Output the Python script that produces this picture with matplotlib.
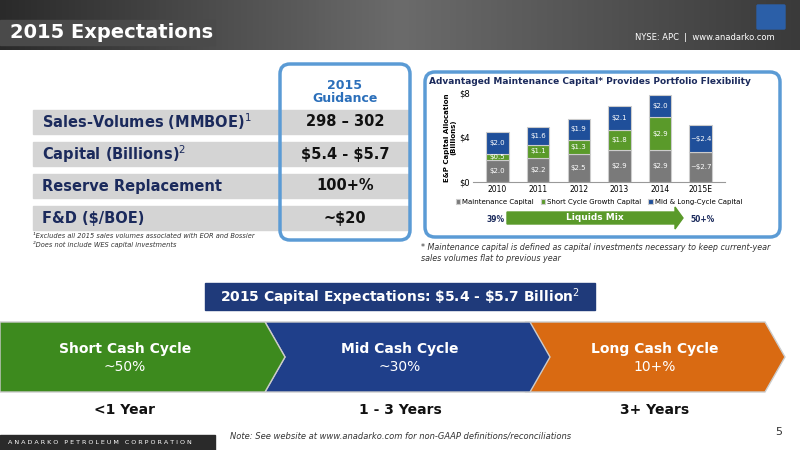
import matplotlib
matplotlib.use('Agg')
import matplotlib.pyplot as plt
from matplotlib.patches import Rectangle, FancyBboxPatch, Polygon
import numpy as np

years = ['2010', '2011', '2012', '2013', '2014', '2015E']
maintenance = [2.0, 2.2, 2.5, 2.9, 2.9, 2.7]
short_cycle = [0.5, 1.1, 1.3, 1.8, 2.9, 0.0]
mid_long = [2.0, 1.6, 1.9, 2.1, 2.0, 2.4]
maint_labels = ['$2.0', '$2.2', '$2.5', '$2.9', '$2.9', '~$2.7']
short_labels = ['$0.5', '$1.1', '$1.3', '$1.8', '$2.9', '']
mid_labels = ['$2.0', '$1.6', '$1.9', '$2.1', '$2.0', '~$2.4']

rows = ['Sales-Volumes (MMBOE)$^1$', 'Capital (Billions)$^2$', 'Reserve Replacement', 'F&D (\\$/BOE)']
guidance = ['298 – 302', '\\$5.4 - \\$5.7', '100+%', '~\\$20']

cycles = ['Short Cash Cycle', 'Mid Cash Cycle', 'Long Cash Cycle']
cycle_pct = ['~50%', '~30%', '10+%']
cycle_years = ['<1 Year', '1 - 3 Years', '3+ Years']

navy = '#1b2a5c'
fig = plt.figure(figsize=(8, 4.5), dpi=100)
bg = fig.add_axes([0, 0, 1, 1])

# header
grad = np.linspace(0, 1, 256).reshape(1, -1)
cmap = matplotlib.colors.LinearSegmentedColormap.from_list('h', ['#2a2a2a', '#6b6b6b', '#3a3a3a'])
bg.imshow(np.vstack([grad] * 2), extent=[0, 800, 50, 0], cmap=cmap, aspect='auto', zorder=0)
bg.add_patch(Rectangle((0, 20), 215, 25, color='#4a4a4a', zorder=1))
bg.text(10, 33, '2015 Expectations', color='white', fontsize=14, fontweight='bold', va='center', zorder=2)
bg.text(705, 37, 'NYSE: APC  |  www.anadarko.com', color='white', fontsize=6, ha='center', va='center')
bg.add_patch(FancyBboxPatch((758, 6), 26, 22, boxstyle='round,pad=1', color='#2b5fa8'))
bg.set_xlim(0, 800)
bg.set_ylim(450, 0)
bg.axis('off')

# footer
bg.add_patch(Rectangle((0, 435), 215, 15, color='#2a2a2a'))
bg.text(8, 442, 'A N A D A R K O   P E T R O L E U M   C O R P O R A T I O N', color='white', fontsize=4.6, va='center')
bg.text(230, 436, 'Note: See website at www.anadarko.com for non-GAAP definitions/reconciliations', fontsize=6, style='italic', color='#333333', va='center')
bg.text(775, 432, '5', fontsize=8, color='#333333', va='center')

# table
bg.text(345, 92, '2015\nGuidance', color='#2b6fba', fontsize=9, fontweight='bold', ha='center', va='center', linespacing=1.0)
for i, (r, g) in enumerate(zip(rows, guidance)):
    y = 122 + i * 32
    bg.add_patch(Rectangle((33, y - 12), 375, 24, color='#d4d4d4', zorder=1))
    bg.text(42, y, r, color=navy, fontsize=10.5, fontweight='bold', va='center', zorder=3)
    bg.text(345, y, g, color='#111111', fontsize=10.5, fontweight='bold', ha='center', va='center', zorder=3)
bg.add_patch(FancyBboxPatch((280, 64), 130, 176, boxstyle='round,pad=0,rounding_size=10', fill=False, ec='#5b9bd5', lw=2.5, zorder=4))
bg.text(33, 236, '¹Excludes all 2015 sales volumes associated with EOR and Bossier', fontsize=4.8, style='italic', color='#333333', va='center')
bg.text(33, 245, '²Does not include WES capital investments', fontsize=4.8, style='italic', color='#333333', va='center')

# chart frame
bg.add_patch(FancyBboxPatch((425, 72), 355, 165, boxstyle='round,pad=0,rounding_size=10', fill=False, ec='#5b9bd5', lw=2.5))
bg.text(590, 82, 'Advantaged Maintenance Capital* Provides Portfolio Flexibility', fontsize=6.5, fontweight='bold', color=navy, ha='center', va='center')
bg.text(421, 253, '* Maintenance capital is defined as capital investments necessary to keep current-year\nsales volumes flat to previous year', fontsize=5.8, style='italic', color='#333333', va='center', linespacing=1.4)
bg.add_patch(Polygon([[507, 212], [675, 212], [675, 207], [683, 218], [675, 229], [675, 224], [507, 224]], color='#5a9a2a'))
bg.text(595, 218, 'Liquids Mix', color='white', fontsize=6.5, fontweight='bold', ha='center', va='center')
bg.text(487, 220, '39%', fontsize=5.5, fontweight='bold', color=navy, va='center')
bg.text(690, 220, '50+%', fontsize=5.5, fontweight='bold', color=navy, va='center')

# capital banner
bg.add_patch(Rectangle((205, 283), 390, 27, color='#1f3a7a'))
bg.text(400, 297, '2015 Capital Expectations: \\$5.4 - \\$5.7 Billion$^2$', color='white', fontsize=10, fontweight='bold', ha='center', va='center')

# chevrons
cols = ['#3d8a1e', '#1f3f8a', '#d96a12']
xs = [0, 265, 525]
for i in range(3):
    x0 = xs[i]
    w = 285 if i < 2 else 260
    pts = [[x0, 322], [x0 + w - 20, 322], [x0 + w, 357], [x0 + w - 20, 392], [x0, 392]]
    if i > 0:
        pts.append([x0 + 20, 357])
    bg.add_patch(Polygon(pts, color=cols[i], ec='#cccccc', lw=1, zorder=2 - i * 0.1))
    cx = [125, 400, 655][i]
    bg.text(cx, 349, cycles[i], color='white', fontsize=10, fontweight='bold', ha='center', va='center', zorder=5)
    bg.text(cx, 367, cycle_pct[i], color='white', fontsize=10, ha='center', va='center', zorder=5)
    bg.text(cx, 410, cycle_years[i], color='#111111', fontsize=10, fontweight='bold', ha='center', va='center')

# bar chart
ax = fig.add_axes([473 / 800, 1 - 182 / 450, 252 / 800, 89 / 450])
x = np.arange(len(years))
ax.bar(x, maintenance, 0.55, color='#7a7a7a', ec='#cccccc', lw=0.8, label='Maintenance Capital')
ax.bar(x, short_cycle, 0.55, bottom=maintenance, color='#5a9a2a', ec='#cccccc', lw=0.8, label='Short Cycle Growth Capital')
bot = np.array(maintenance) + np.array(short_cycle)
ax.bar(x, mid_long, 0.55, bottom=bot, color='#1f4f9a', ec='#cccccc', lw=0.8, label='Mid & Long-Cycle Capital')
for i in range(len(years)):
    ax.text(x[i], maintenance[i] / 2, maint_labels[i].replace('$', '\\$'), color='white', fontsize=5, ha='center', va='center')
    if short_labels[i]:
        ax.text(x[i], maintenance[i] + short_cycle[i] / 2, short_labels[i].replace('$', '\\$'), color='white', fontsize=5, ha='center', va='center')
    ax.text(x[i], bot[i] + mid_long[i] / 2, mid_labels[i].replace('$', '\\$'), color='white', fontsize=5, ha='center', va='center')
ax.set_ylim(0, 8)
ax.set_yticks([0, 4, 8])
ax.set_yticklabels(['\\$0', '\\$4', '\\$8'], fontsize=6)
ax.set_xticks(x)
ax.set_xticklabels(years, fontsize=5.5)
ax.set_xlim(-0.6, 5.6)
ax.tick_params(length=0, pad=2)
for s in ['top', 'right', 'left']:
    ax.spines[s].set_visible(False)
ax.spines['bottom'].set_color('#999999')
ax.set_ylabel('E&P Capital Allocation\n(Billions)', fontsize=5, fontweight='bold', labelpad=2)
ax.legend(loc='upper center', bbox_to_anchor=(0.5, -0.12), ncol=3, fontsize=5, frameon=False, handlelength=0.6, handletextpad=0.3, columnspacing=1)

fig.savefig('out.png', dpi=100)
